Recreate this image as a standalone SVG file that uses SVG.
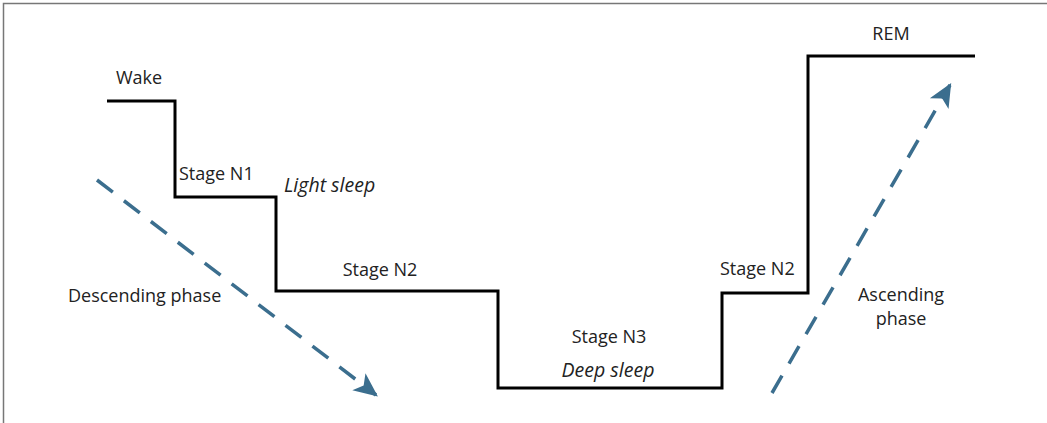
<svg xmlns="http://www.w3.org/2000/svg" width="1047" height="423" viewBox="0 0 1047 423">
<style>
.t{font-family:"Open Sans","Noto Sans",sans-serif;font-size:18px;fill:#222}
.i{font-style:italic;font-size:19.5px}
.step{fill:none;stroke:#000;stroke-width:3}
.dash{fill:none;stroke:#3b6e8e;stroke-width:3.5;stroke-dasharray:20 14}
</style>
<defs>
<marker id="ah2" viewBox="0 0 20 20" refX="18" refY="10" markerWidth="24" markerHeight="24" orient="auto" markerUnits="userSpaceOnUse">
<path d="M0,1 L20,10 L0,19 L5,10 Z" fill="#3b6e8e"/>
</marker>
</defs>
<rect x="3.5" y="3.5" width="1100" height="500" fill="#fff" stroke="#777" stroke-width="1.5"/>
<g id="connectors">
<path class="step" d="M107,101 H175 V197 H276 V291 H498 V388 H722 V293 H808 V56 H975"/>
<path class="dash" d="M97,180 L376,395" marker-end="url(#ah2)"/>
<path class="dash" d="M772,393 L950,85" marker-end="url(#ah2)"/>
</g>
<g id="wake"><text class="t" x="116" y="84">Wake</text></g>
<g id="n1"><text class="t" x="179" y="180">Stage N1</text><text class="t i" x="284" y="192">Light sleep</text></g>
<g id="n2a"><text class="t" x="380" y="276" text-anchor="middle">Stage N2</text></g>
<g id="desc"><text class="t" x="68" y="302">Descending phase</text></g>
<g id="n3"><text class="t" x="609" y="343" text-anchor="middle">Stage N3</text><text class="t i" x="608" y="377" text-anchor="middle">Deep sleep</text></g>
<g id="n2b"><text class="t" x="720" y="275">Stage N2</text></g>
<g id="asc"><text class="t" x="901" y="301" text-anchor="middle">Ascending</text><text class="t" x="901" y="325" text-anchor="middle">phase</text></g>
<g id="rem"><text class="t" x="891" y="40" text-anchor="middle">REM</text></g>
</svg>
